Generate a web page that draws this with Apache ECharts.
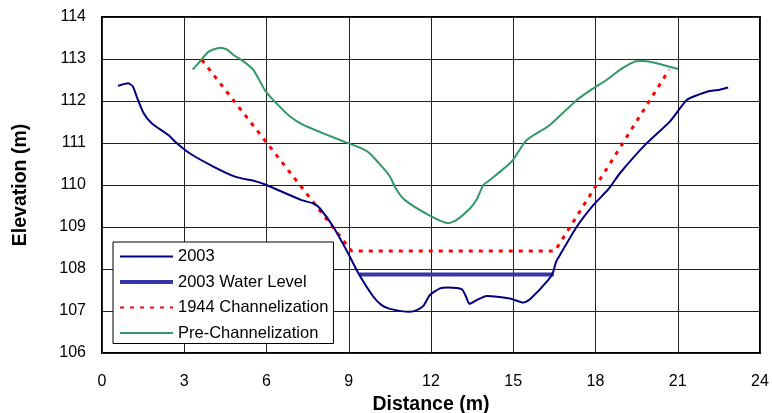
<!DOCTYPE html>
<html>
<head>
<meta charset="utf-8">
<script src="https://cdn.jsdelivr.net/npm/echarts@6/dist/echarts.min.js"></script>
<style>
  html, body { margin: 0; padding: 0; background: #fff; }
  #chart { width: 772px; height: 413px; }
</style>
</head>
<body>
<div id="chart"></div>
<script>
// distance (m), elevation (m) pairs
const line2003 = [
  [0.58, 112.36], [0.95, 112.42], [1.12, 112.35], [1.27, 112.1], [1.51, 111.72],
  [1.81, 111.47], [2.42, 111.19], [2.72, 111.0], [3.21, 110.75], [4.06, 110.44],
  [4.85, 110.2], [5.64, 110.08], [6.0, 110.0], [7.28, 109.64], [7.71, 109.56],
  [7.95, 109.44], [8.44, 109.0], [8.98, 108.37], [9.35, 107.9], [9.9, 107.34],
  [10.2, 107.14], [10.5, 107.05], [11.23, 106.98], [11.48, 107.02], [11.72, 107.12],
  [11.96, 107.38], [12.33, 107.54], [12.63, 107.56], [13.12, 107.52], [13.28, 107.34],
  [13.4, 107.17], [13.67, 107.26], [14.03, 107.36], [14.88, 107.3], [15.37, 107.2],
  [15.61, 107.28], [16.28, 107.74], [16.46, 107.94], [16.56, 108.17], [16.7, 108.33],
  [17.31, 109.0], [17.92, 109.52], [18.47, 109.9], [18.89, 110.28], [19.86, 110.99],
  [20.71, 111.51], [21.32, 112.02], [21.63, 112.12], [22.17, 112.24], [22.54, 112.27],
  [22.84, 112.32]
];
const waterLevel2003 = [[9.38, 107.87], [16.48, 107.87]];
const channel1944 = [[3.64, 112.98], [9.1, 108.43], [16.52, 108.43], [20.69, 112.75]];
const preChannel = [
  [3.31, 112.75], [3.57, 112.94], [3.88, 113.17], [4.3, 113.27], [4.55, 113.23],
  [4.85, 113.07], [5.15, 112.95], [5.52, 112.74], [5.94, 112.26], [6.25, 112.02],
  [6.86, 111.63], [7.34, 111.43], [8.07, 111.23], [8.92, 111.01], [9.47, 110.87],
  [9.77, 110.75], [10.26, 110.4], [10.5, 110.2], [10.75, 109.88], [11.05, 109.64],
  [11.96, 109.27], [12.63, 109.09], [12.94, 109.17], [13.42, 109.44], [13.67, 109.66],
  [13.91, 110.0], [14.15, 110.12], [14.94, 110.56], [15.49, 111.07], [16.34, 111.43],
  [17.31, 112.02], [17.92, 112.3], [18.4, 112.5], [18.89, 112.74], [19.44, 112.94],
  [19.74, 112.95], [20.23, 112.9], [21.02, 112.76]
];

const font = 'Liberation Sans, Arial, sans-serif';
const chart = echarts.init(document.getElementById('chart'));

chart.setOption({
  animation: false,
  backgroundColor: '#fff',
  grid: {
    left: 102, right: 12, top: 17, bottom: 60,
    outerBoundsMode: 'none', containLabel: false,
    show: true, borderColor: '#000', borderWidth: 2, backgroundColor: 'transparent'
  },
  legend: {
    orient: 'vertical',
    left: 113, top: 242,
    backgroundColor: '#fff',
    borderColor: '#000',
    borderWidth: 1,
    borderRadius: 0,
    padding: [6, 5, 2, 5],
    itemWidth: 53,
    itemHeight: 14,
    itemGap: 8.5,
    itemStyle: { opacity: 0 },
    textStyle: { fontFamily: font, fontSize: 16.5, color: '#000' },
    data: [
      { name: '2003' },
      { name: '2003 Water Level', lineStyle: { width: 4 } },
      { name: '1944 Channelization' },
      { name: 'Pre-Channelization' }
    ]
  },
  xAxis: {
    type: 'value', min: 0, max: 24, interval: 3,
    name: 'Distance (m)', nameLocation: 'middle', nameGap: 39,
    nameTextStyle: { fontFamily: font, fontSize: 19.5, fontWeight: 'bold', color: '#000' },
    axisLine: { show: false },
    axisTick: { show: false },
    axisLabel: { fontFamily: font, fontSize: 16, color: '#000', margin: 21 },
    splitLine: { show: true, lineStyle: { color: '#222', width: 1 } }
  },
  yAxis: {
    type: 'value', min: 106, max: 114, interval: 1,
    name: 'Elevation (m)', nameLocation: 'middle', nameGap: 71,
    nameTextStyle: { fontFamily: font, fontSize: 19.5, fontWeight: 'bold', color: '#000' },
    axisLine: { show: false },
    axisTick: { show: false },
    axisLabel: { fontFamily: font, fontSize: 16, color: '#000', margin: 16 },
    splitLine: { show: true, lineStyle: { color: '#222', width: 1 } }
  },
  series: [
    {
      name: '2003', type: 'line', data: line2003, smooth: 0.2,
      symbol: 'none', z: 4,
      lineStyle: { color: '#000080', width: 2 }, itemStyle: { color: '#000080' }
    },
    {
      name: '2003 Water Level', type: 'line', data: waterLevel2003,
      symbol: 'none', z: 3,
      lineStyle: { color: '#3636a8', width: 4 }, itemStyle: { color: '#3636a8' }
    },
    {
      name: '1944 Channelization', type: 'line', data: channel1944,
      symbol: 'none', z: 3,
      lineStyle: { color: '#ff0000', width: 3, type: [4, 6] }, itemStyle: { color: '#ff0000' }
    },
    {
      name: 'Pre-Channelization', type: 'line', data: preChannel, smooth: 0.2,
      symbol: 'none', z: 2,
      lineStyle: { color: '#339966', width: 2 }, itemStyle: { color: '#339966' }
    }
  ]
});
</script>
</body>
</html>
